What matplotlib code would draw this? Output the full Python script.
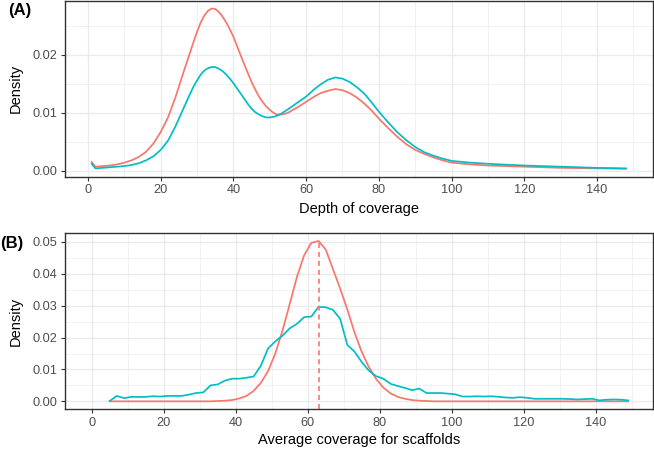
import matplotlib
matplotlib.use("Agg")
import matplotlib.pyplot as plt
from matplotlib.ticker import MultipleLocator

plt.rcParams['font.family'] = ['Liberation Sans', 'DejaVu Sans']

# ---------------- Panel A data: density of depth of coverage ----------------
depth_x = [1, 1.5, 2, 4, 6, 8, 10, 12, 14, 16, 18, 20, 22, 24, 26, 27, 28, 29, 30, 31,
           32, 33, 34, 35, 36, 37, 38, 39, 40, 41, 42, 43, 44, 45, 46, 47, 48, 49, 50,
           51, 52, 53, 54, 55, 57.5, 60, 62.5, 64, 66, 68, 70, 72, 74, 76, 78, 80,
           82.5, 85, 87.5, 90, 92.5, 95, 97.5, 100, 105, 110, 120, 130, 140, 148]
depth_red = [0.0015, 0.0011, 0.0007, 0.0008, 0.0009, 0.0011, 0.0014, 0.0018, 0.0024,
             0.0033, 0.0047, 0.0067, 0.0092, 0.0126, 0.0165, 0.0184, 0.0203, 0.0222,
             0.0240, 0.0256, 0.0268, 0.0276, 0.0280, 0.0279, 0.0274, 0.0266, 0.0256,
             0.0244, 0.0231, 0.0215, 0.0199, 0.0183, 0.0168, 0.0153, 0.0140, 0.0128,
             0.0119, 0.0111, 0.0105, 0.0100, 0.0097, 0.0097, 0.0098, 0.0100, 0.0109,
             0.0119, 0.0129, 0.0134, 0.0138, 0.0141, 0.0139, 0.0134, 0.0126, 0.0116,
             0.0104, 0.0090, 0.0074, 0.0059, 0.0046, 0.0036, 0.0029, 0.0023, 0.0018,
             0.0014, 0.0011, 0.0009, 0.0007, 0.0005, 0.0004, 0.00035]
depth_blue = [0.0012, 0.0008, 0.0004, 0.0005, 0.0006, 0.0007, 0.0008, 0.0010, 0.0013,
              0.0018, 0.0025, 0.0036, 0.0052, 0.0076, 0.0104, 0.0118, 0.0132, 0.0145,
              0.0156, 0.0166, 0.0173, 0.0177, 0.0179, 0.0179, 0.0176, 0.0172, 0.0166,
              0.0159, 0.0151, 0.0142, 0.0133, 0.0124, 0.0115, 0.0107, 0.0101, 0.0097,
              0.0094, 0.0092, 0.0092, 0.0093, 0.0095, 0.0098, 0.0102, 0.0106, 0.0117,
              0.0128, 0.0142, 0.0149, 0.0157, 0.0161, 0.0159, 0.0153, 0.0144, 0.0133,
              0.0118, 0.0102, 0.0084, 0.0067, 0.0053, 0.0041, 0.0032, 0.0026, 0.0021,
              0.0017, 0.0014, 0.0012, 0.0009, 0.0007, 0.0005, 0.0004]

# ---------------- Panel B data: average coverage for scaffolds ----------------
scaf_x = list(range(5, 150, 2))
scaf_blue = [0.0001, 0.0017, 0.0010, 0.0014, 0.0014, 0.0014, 0.0016, 0.0015, 0.0017,
             0.0017, 0.0017, 0.0021, 0.0026, 0.0028, 0.0050, 0.0053, 0.0065, 0.0071,
             0.0071, 0.0074, 0.0078, 0.0112, 0.0166, 0.0188, 0.0206, 0.0229, 0.0243,
             0.0264, 0.0266, 0.0296, 0.0295, 0.0287, 0.0259, 0.0177, 0.0156, 0.0123,
             0.0096, 0.0079, 0.0071, 0.0055, 0.0048, 0.0042, 0.0035, 0.0040, 0.0026,
             0.0026, 0.0026, 0.0024, 0.0022, 0.0015, 0.0015, 0.0016, 0.0015, 0.0016,
             0.0014, 0.0012, 0.0011, 0.0013, 0.0011, 0.0008, 0.0008, 0.0008, 0.0008,
             0.0008, 0.0007, 0.0006, 0.0007, 0.0008, 0.0003, 0.0005, 0.0006, 0.0005,
             0.0003]
scaf_red = [0.0] * 15 + [0.0001, 0.0002, 0.0004, 0.0009, 0.0017, 0.0033, 0.0058, 0.0095,
            0.0150, 0.0222, 0.0305, 0.0390, 0.0458, 0.0497, 0.0503, 0.0476, 0.0415,
            0.0354, 0.0288, 0.0216, 0.0155, 0.0107, 0.0070, 0.0043, 0.0025, 0.0014,
            0.0008, 0.0004, 0.0002, 0.0001] + [0.0] * 28
peak_x = 63

RED = '#F8766D'
TEAL = '#00BFC4'
LW = 1.25

W, H = 654, 449
fig = plt.figure(figsize=(W / 100, H / 100), dpi=100)


def rect(l, t, r, b):
    return [l / W, 1 - b / H, (r - l) / W, (b - t) / H]


def style(ax):
    ax.set_facecolor('white')
    for s in ax.spines.values():
        s.set_color('#333333')
        s.set_linewidth(1.0)
    ax.grid(which='major', color='#EBEBEB', linewidth=1.0)
    ax.grid(which='minor', color='#EBEBEB', linewidth=0.5)
    ax.set_axisbelow(True)
    ax.tick_params(which='major', length=3, width=0.8, color='#333333',
                   labelsize=9.2, labelcolor='#4D4D4D', pad=2.5)
    ax.tick_params(which='minor', length=0)
    ax.xaxis.set_major_locator(MultipleLocator(20))
    ax.xaxis.set_minor_locator(MultipleLocator(10))


axA = fig.add_axes(rect(65, 0.5, 652.7, 176.7))
style(axA)
axA.plot(depth_x, depth_red, color=RED, lw=LW, solid_joinstyle='round')
axA.plot(depth_x, depth_blue, color=TEAL, lw=LW, solid_joinstyle='round')
axA.set_xlim(-6.35, 155.35)
axA.set_ylim(-0.00103, 0.02938)
axA.yaxis.set_major_locator(MultipleLocator(0.01))
axA.yaxis.set_minor_locator(MultipleLocator(0.005))
axA.yaxis.set_major_formatter(lambda v, p: f'{v:.2f}')
axA.set_xlabel('Depth of coverage', fontsize=10.5)
axA.set_ylabel('Density', fontsize=10.5)
axA.xaxis.set_label_coords(0.5, (176.7 - 208.5) / 176.2)
axA.xaxis.label.set_va('center')
axA.yaxis.set_label_coords((16 - 65) / 587.7, 0.5)
axA.yaxis.label.set_va('center')

axB = fig.add_axes(rect(65, 233, 652.7, 409.3))
style(axB)
axB.plot(scaf_x, scaf_red, color=RED, lw=LW, solid_joinstyle='round')
axB.plot(scaf_x, scaf_blue, color=TEAL, lw=LW, solid_joinstyle='round')
axB.set_xlim(-7.4, 155.8)
axB.set_ylim(-0.0025, 0.0528)
axB.vlines(peak_x, -0.0025, max(scaf_red), colors=RED, linewidth=1.4,
           linestyles=(0, (2.6, 2.0)), alpha=0.85)
axB.yaxis.set_major_locator(MultipleLocator(0.01))
axB.yaxis.set_minor_locator(MultipleLocator(0.005))
axB.yaxis.set_major_formatter(lambda v, p: f'{v:.2f}')
axB.set_xlabel('Average coverage for scaffolds', fontsize=10.5)
axB.set_ylabel('Density', fontsize=10.5)
axB.xaxis.set_label_coords(0.5, (409.3 - 440) / 176.3)
axB.xaxis.label.set_va('center')
axB.yaxis.set_label_coords((16 - 65) / 587.7, 0.5)
axB.yaxis.label.set_va('center')

fig.text(8 / W, 1 - 11 / H, '(A)', fontsize=12, fontweight='bold', ha='left', va='center')
fig.text(0 / W, 1 - 243.5 / H, '(B)', fontsize=12, fontweight='bold', ha='left', va='center')

fig.savefig('out.png', dpi=100, facecolor='white')
